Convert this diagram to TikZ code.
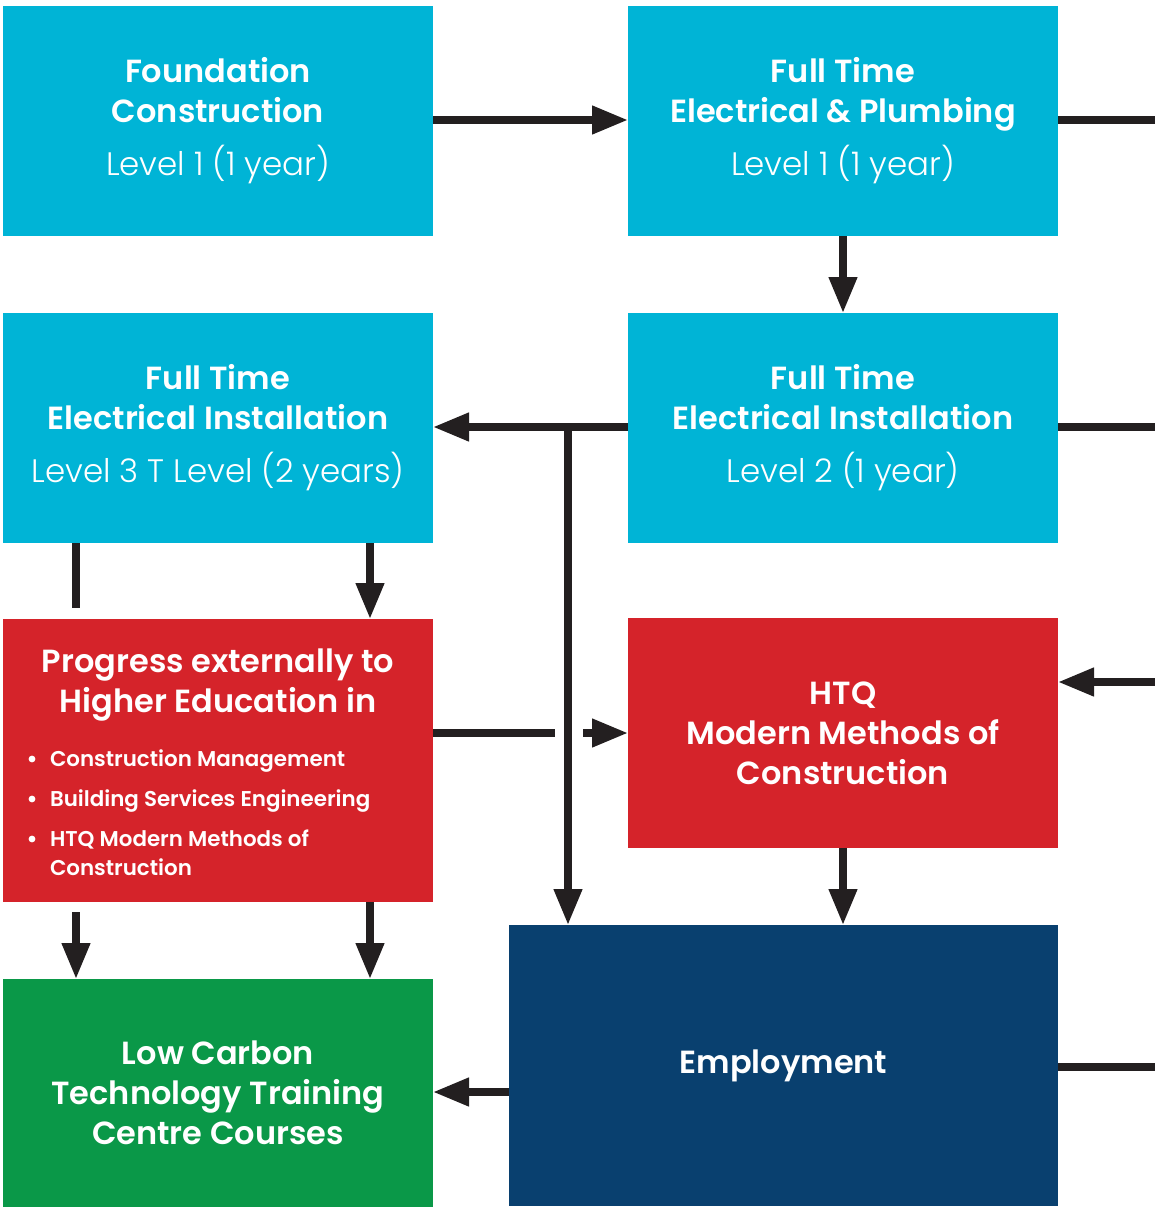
\documentclass[tikz,border=0pt]{standalone}
\usepackage{fontspec}
\setmainfont{Poppins}
\newfontfamily\semib{Poppins SemiBold}
\newfontfamily\lite{Poppins Light}
\usetikzlibrary{arrows.meta}
\definecolor{cyanbox}{HTML}{00B4D6}
\definecolor{redbox}{HTML}{D5232A}
\definecolor{greenbox}{HTML}{0A9848}
\definecolor{bluebox}{HTML}{09406F}
\definecolor{arrowc}{HTML}{231F20}
\tikzset{
  box/.style={fill=#1, draw=none, inner sep=0pt, outer sep=0pt, minimum width=430pt, minimum height=230pt, text=white, align=center, font=\semib\fontsize{32}{40}\selectfont},
  txt/.style={inner sep=0pt, outer sep=0pt, text=white},
  conn/.style={line width=7.5pt, draw=arrowc},
  arr/.style={conn, -{Triangle[length=36pt,width=27pt]}},
  lvl/.style={},
}
\newcommand{\lvltext}[1]{{\lite\fontsize{32.5}{40}\selectfont #1}}
\begin{document}
\begin{tikzpicture}[x=1pt,y=-1pt]
\useasboundingbox (0,0) rectangle (1155,1207);
% boxes
\node[box=cyanbox] (fc) at (218,121) {Foundation\\Construction\\[13pt]\lvltext{Level 1 (1 year)}};
\node[box=cyanbox] (ep) at (843,121) {Full Time\\Electrical \& Plumbing\\[13pt]\lvltext{Level 1 (1 year)}};
\node[box=cyanbox] (l3) at (218,428) {Full Time\\Electrical Installation\\[13pt]\lvltext{Level 3 T Level (2 years)}};
\node[box=cyanbox] (l2) at (843,428) {Full Time\\Electrical Installation\\[13pt]\lvltext{Level 2 (1 year)}};
\node[box=redbox, minimum height=283pt] (pe) at (218,760.5) {};
\node[box=redbox] (htq) at (843,733) {HTQ\\Modern Methods of\\Construction};
\node[box=greenbox, minimum height=228pt] (lc) at (218,1093) {Low Carbon\\Technology Training\\Centre Courses};
\node[box=bluebox, minimum width=549pt, minimum height=281pt] (emp) at (783.5,1065.5) {Employment};
% red box text
\node[txt, align=center, font=\semib\fontsize{32}{40}\selectfont, anchor=base] (pet) at (218,712) {Progress externally to\\Higher Education in};
\tikzset{item/.style={txt, anchor=base west, align=left, font=\semib\fontsize{21.4}{29.5}\selectfont}}
\node[item] (i1) at (50,766) {Construction Management};
\node[item] (i2) at (50,806) {Building Services Engineering};
\node[item] (i3) at (50,875.5) {HTQ Modern Methods of\\Construction};
\foreach \yy/\nm in {759/b1,799/b2,839/b3}{\fill[white] (32,\yy) circle (3.4pt) coordinate (\nm);}
% coordinates
\coordinate (e1) at (1155,120);
\coordinate (e2) at (1155,427);
\coordinate (e3) at (1155,682);
\coordinate (e4) at (1155,1067);
\coordinate (j) at (568,427);
\coordinate (s1) at (76,608);
\coordinate (g1) at (555,733);
\coordinate (g2) at (583,733);
\coordinate (t1) at (76,912);
% connectors
\draw[arr] (fc.east |- e1) -- (ep.west |- e1);
\draw[conn] (ep.east |- e1) -- (e1);
\draw[arr] (ep.south) -- (l2.north);
\draw[arr] (l2.west |- e2) -- (l3.east |- e2);
\draw[conn] (l2.east |- e2) -- (e2);
\draw[arr] (j) -- (j |- emp.north);
\draw[conn] (s1 |- l3.south) -- (s1);
\draw[arr] (l3.south -| 370,0) -- (pe.north -| 370,0);
\draw[conn] (pe.east |- g1) -- (g1);
\draw[arr] (g2) -- (htq.west |- g2);
\draw[arr] (e3) -- (htq.east |- e3);
\draw[arr] (htq.south) -- (htq.south |- emp.north);
\draw[arr] (t1) -- (t1 |- lc.north);
\draw[arr] (pe.south -| 370,0) -- (lc.north -| 370,0);
\draw[arr] (emp.west |- 0,1092) -- (lc.east |- 0,1092);
\draw[conn] (emp.east |- e4) -- (e4);
\end{tikzpicture}
\end{document}
